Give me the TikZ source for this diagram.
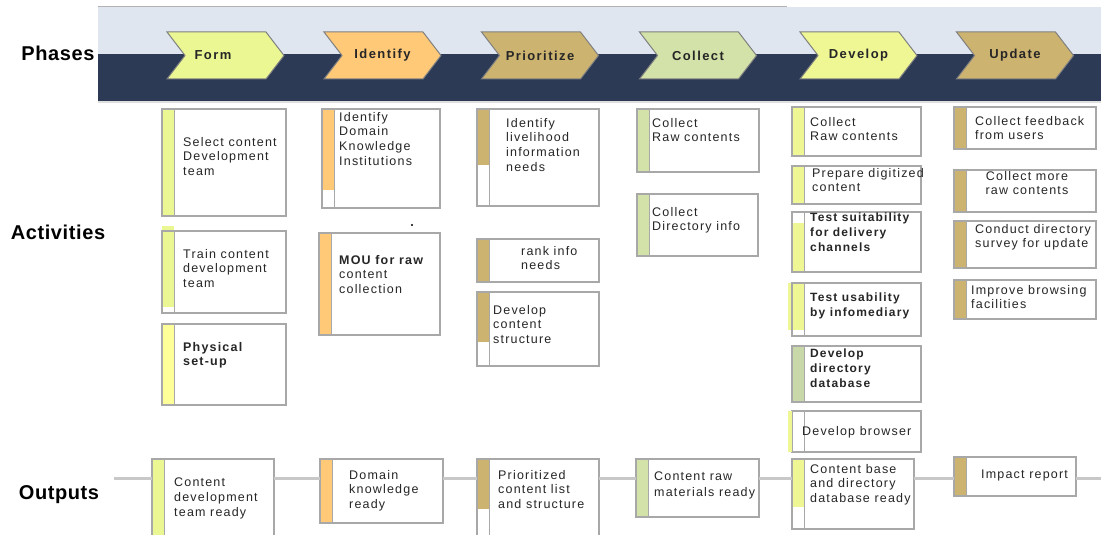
\documentclass[tikz,border=0pt]{standalone}
\usepackage{fontspec}
\setmainfont{Liberation Sans}
\newfontfamily\boxfont[LetterSpace=9.5]{Liberation Sans}
\newfontfamily\chevfont[LetterSpace=11]{Liberation Sans}
\newfontfamily\labfont[LetterSpace=3]{Liberation Sans}
\usetikzlibrary{shapes.symbols,fit}

\definecolor{bandlight}{HTML}{DFE6EF}
\definecolor{banddark}{HTML}{2C3A56}
\definecolor{cform}{HTML}{EAF793}
\definecolor{cident}{HTML}{FFC978}
\definecolor{cprio}{HTML}{CDB370}
\definecolor{ccoll}{HTML}{D3E2A8}
\definecolor{cdev}{HTML}{EEF794}
\definecolor{cyel}{HTML}{FFFF99}
\definecolor{cdb}{HTML}{C9D8A8}
\definecolor{boxline}{HTML}{A8A8A8}
\definecolor{chevline}{HTML}{808080}
\definecolor{oline}{HTML}{C8C8C8}

\tikzset{
  boxnode/.style={inner sep=0pt, outer sep=0pt, fill=white},
  txt/.style={anchor=north west, inner sep=0pt, align=left, text=black!85,
    font=\boxfont\fontsize{12.5}{14.7}\selectfont},
  lab/.style={inner sep=0pt, font=\labfont\bfseries\fontsize{20}{22}\selectfont},
  chev/.style={shape=signal, signal from=west, signal to=east,
    signal pointer angle=105, minimum width=117pt, minimum height=47pt,
    inner sep=0pt, draw=chevline, line width=1pt, text=black!85,
    font=\chevfont\bfseries\fontsize{13}{15}\selectfont},
  oconn/.style={draw=oline, line width=3pt}
}

\newcommand\actbox[8]{%
  \node[boxnode, fit={(#2,#3) (#4,#5)}] (#1) {};
  \fill[#6] (#2,#7) rectangle ({#2+12},#8);
  \draw[boxline, line width=1pt] ({#2+12},#3) -- ({#2+12},#5);
  \draw[boxline, line width=1.3pt] (#1.north west) rectangle (#1.south east);
}

\begin{document}
\begin{tikzpicture}[x=1pt,y=-1pt]
\useasboundingbox (0,0) rectangle (1101,535);
\clip (0,0) rectangle (1101,535);
\fill[white] (0,0) rectangle (1101,535);

% band
\fill[bandlight] (98,7) rectangle (1101,54);
\fill[banddark] (98,54) rectangle (1101,101);
\draw[gray!60, line width=1pt] (98,7) -- (787,7);
\draw[gray!25, line width=1pt] (98,102) -- (1101,102);

% phase chevrons
\node[chev, fill=cform] (pform) at (225.5,55.5) {\hspace*{-25pt}Form};
\node[chev, fill=cident] (pident) at (382.5,55.5) {Identify};
\node[chev, fill=cprio] (pprio) at (540,55.5) {Prioritize};
\node[chev, fill=ccoll] (pcoll) at (698,55.5) {Collect};
\node[chev, fill=cdev] (pdev) at (858.5,55.5) {Develop};
\node[chev, fill=cprio] (pupd) at (1015,55.5) {Update};

% row labels
\node[lab] (lphases) at (58,53) {Phases};
\node[lab] (lact) at (58,232) {Activities};
\node[lab] (lout) at (59,495) {Outputs};

% column Form
\actbox{a1}{162}{109}{286}{216}{cform}{109}{216}
\node[txt] (ta1) at (183,137) {Select content\\Development\\team};
\fill[cform] (162,226) rectangle (174,231);
\actbox{a2}{162}{231}{286}{313}{cform}{231}{307}
\node[txt] (ta2) at (183,249) {Train content\\development\\team};
\actbox{a3}{162}{324}{286}{405}{cyel}{324}{405}
\node[txt, font=\boxfont\bfseries\fontsize{12.5}{14.7}\selectfont] (ta3) at (183,342) {Physical\\set-up};

% column Identify
\actbox{b1}{322}{109}{440}{208}{cident}{109}{190}
\node[txt] (tb1) at (339,112) {Identify\\Domain\\Knowledge\\Institutions};
\fill[black] (412,225) circle (1.1);
\actbox{b2}{319}{233}{440}{335}{cident}{233}{335}
\node[txt] (tb2) at (339,255) {\textbf{MOU for raw}\\content\\collection};

% column Prioritize
\actbox{c1}{477}{109}{599}{206}{cprio}{109}{165}
\node[txt] (tc1) at (506,118) {Identify\\livelihood\\information\\needs};
\actbox{c2}{477}{239}{599}{282}{cprio}{239}{282}
\node[txt] (tc2) at (521,246) {rank info\\needs};
\actbox{c3}{477}{292}{599}{366}{cprio}{292}{342}
\node[txt] (tc3) at (493,305) {Develop\\content\\structure};

% column Collect
\actbox{d1}{637}{109}{759}{172}{ccoll}{109}{172}
\node[txt] (td1) at (652,118) {Collect\\Raw contents};
\actbox{d2}{637}{194}{758}{256}{ccoll}{194}{256}
\node[txt] (td2) at (652,207) {Collect\\Directory info};

% column Develop
\actbox{e1}{792}{107}{921}{156}{cdev}{107}{156}
\node[txt] (te1) at (810,117) {Collect\\Raw contents};
\actbox{e2}{792}{166}{921}{204}{cdev}{166}{204}
\node[txt] (te2) at (812,168) {Prepare digitized\\content};
\actbox{e3}{792}{212}{921}{272}{cdev}{223}{272}
\node[txt, font=\boxfont\bfseries\fontsize{12}{14.7}\selectfont] (te3) at (810,213) {Test suitability\\for delivery\\channels};
\fill[cdev] (788,283) rectangle (792,330);
\actbox{e4}{792}{283}{921}{336}{cdev}{283}{330}
\node[txt, font=\boxfont\bfseries\fontsize{12}{14.7}\selectfont] (te4) at (810,293) {Test usability\\by infomediary};
\actbox{e5}{792}{346}{921}{402}{cdb}{346}{402}
\node[txt, font=\boxfont\bfseries\fontsize{12}{14.7}\selectfont] (te5) at (810,349) {Develop\\directory\\database};
\actbox{e6}{792}{411}{921}{452}{white}{411}{452}
\fill[cdev] (788,411) rectangle (792,452);
\node[txt] (te6) at (802,426) {Develop browser};

% column Update
\actbox{f1}{954}{107}{1096}{149}{cprio}{107}{149}
\node[txt] (tf1) at (975,116) {Collect feedback\\from users};
\actbox{f2}{954}{170}{1096}{212}{cprio}{170}{212}
\node[txt, align=center, anchor=north] (tf2) at (1027,171) {Collect more\\raw contents};
\actbox{f3}{954}{221}{1096}{268}{cprio}{221}{268}
\node[txt] (tf3) at (975,224) {Conduct directory\\survey for update};
\actbox{f4}{954}{280}{1096}{319}{cprio}{280}{319}
\node[txt] (tf4) at (971,285) {Improve browsing\\facilities};

% outputs
\actbox{o1}{152}{459}{274}{545}{cform}{459}{545}
\node[txt] (to1) at (174,478) {Content\\development\\team ready};
\actbox{o2}{320}{459}{443}{523}{cident}{459}{523}
\node[txt] (to2) at (349,470) {Domain\\knowledge\\ready};
\actbox{o3}{477}{459}{599}{545}{cprio}{459}{509}
\node[txt] (to3) at (498,470) {Prioritized\\content list\\and structure};
\actbox{o4}{636}{459}{759}{517}{ccoll}{459}{517}
\node[txt, font=\boxfont\fontsize{12.5}{16}\selectfont] (to4) at (654,472) {Content raw\\materials ready};
\actbox{o5}{792}{459}{914}{529}{cdev}{459}{507}
\node[txt] (to5) at (810,464) {Content base\\and directory\\database ready};
\actbox{o6}{954}{457}{1076}{496}{cprio}{457}{496}
\node[txt] (to6) at (981,470) {Impact report};

\coordinate (os) at (114,478);
\coordinate (oe) at (1101,478);
\draw[oconn] (os) -- (o1.west |- os);
\draw[oconn] (o1.east |- os) -- (o2.west |- os);
\draw[oconn] (o2.east |- os) -- (o3.west |- os);
\draw[oconn] (o3.east |- os) -- (o4.west |- os);
\draw[oconn] (o4.east |- os) -- (o5.west |- os);
\draw[oconn] (o5.east |- os) -- (o6.west |- os);
\draw[oconn] (o6.east |- os) -- (oe);
\end{tikzpicture}
\end{document}
